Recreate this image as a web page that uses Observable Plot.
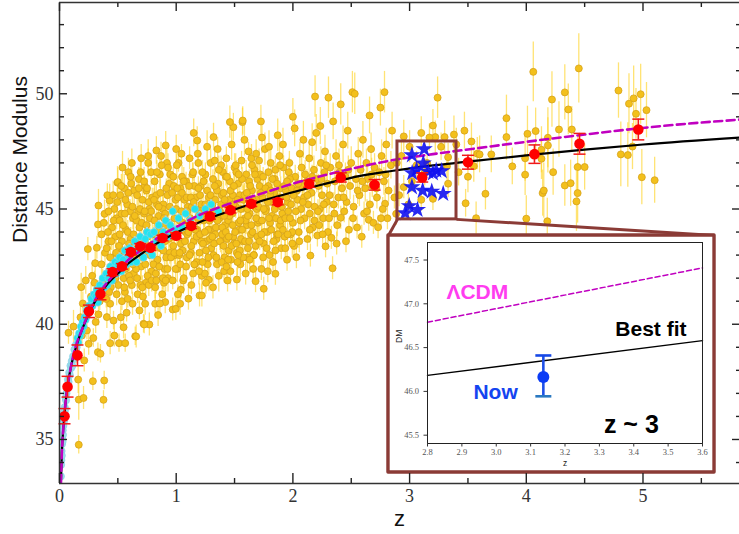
<!DOCTYPE html>
<html><head><meta charset="utf-8">
<script src="https://cdn.jsdelivr.net/npm/d3@7"></script>
<script src="https://cdn.jsdelivr.net/npm/@observablehq/plot@0.6"></script>
<style>
html,body{margin:0;padding:0;background:#fff;overflow:hidden}
#wrap{position:relative;width:739px;height:534px}
#main{position:absolute;left:0;top:0}
#inset{position:absolute;left:390px;top:237px}
</style></head><body><div id="wrap"><div id="main"></div><div id="inset"></div></div>
<script>
// ---------------- data ----------------
// quasars: [z, distance modulus, 1-sigma error]
const quasars = [
[0.077,39.63,0.5],[0.165,34.77,0.4],[0.165,36.73,0.9],[0.206,36.8,0.5],[0.186,41.61,0.6],[0.192,39.51,0.4],[0.212,38.43,0.5],[0.14,38.9,0.6],[0.12,39.9,0.7],[0.18,40.3,0.5],[0.16,37.6,0.6],[0.2,40.9,0.5],
[0.243,43.26,0.5],[0.235,39.73,0.4],[0.25,39.15,0.5],[0.286,37.53,0.4],[0.32,43.32,0.5],[0.306,42.65,0.6],[0.334,45.15,0.7],[0.329,38.79,0.4],[0.334,40.43,0.5],[0.27,41.2,0.6],[0.3,41.8,0.5],[0.26,40.7,0.4],[0.31,40.1,0.5],[0.28,42.1,0.5],[0.33,44.33,0.6],[0.345,41.0,0.4],[0.225,41.9,0.6],[0.29,39.4,0.4],
[0.383,37.56,0.4],[0.377,36.72,0.4],[0.386,44.79,0.6],[0.38,44.4,0.5],[0.351,38.72,0.4],[0.406,40.31,0.5],[0.434,40.89,0.5],[0.463,40.16,0.4],[0.47,39.51,0.5],[0.434,39.18,0.5],[0.43,45.37,0.7],[0.497,46.14,0.7],[0.36,42.6,0.5],[0.39,43.1,0.5],[0.41,42.2,0.4],[0.42,43.6,0.5],[0.44,41.6,0.4],[0.45,44.2,0.5],[0.46,42.9,0.6],[0.48,43.8,0.5],[0.49,41.3,0.5],[0.37,41.9,0.5],[0.4,41.1,0.4],[0.47,45.0,0.6],[0.42,44.9,0.6],[0.49,44.6,0.5],[0.36,43.9,0.6],[0.44,42.5,0.5],
[0.51,39.18,0.4],[0.549,39.87,0.5],[0.563,39.18,0.4],[0.626,40.89,0.5],[0.5,46.17,0.6],[0.52,45.6,0.5],[0.53,44.8,0.6],[0.54,43.2,0.5],[0.55,42.0,0.4],[0.56,41.4,0.4],[0.57,44.1,0.5],[0.58,45.2,0.6],[0.59,46.6,0.6],[0.6,42.7,0.5],[0.61,43.7,0.5],[0.62,41.7,0.4],[0.63,44.6,0.5],[0.64,45.8,0.6],[0.505,42.8,0.5],[0.515,43.9,0.5],[0.535,41.0,0.4],[0.565,42.4,0.5],[0.575,40.5,0.4],[0.595,43.5,0.5],[0.605,44.9,0.5],[0.615,46.1,0.6],[0.635,42.2,0.4],[0.645,43.0,0.5],[0.525,40.3,0.5],[0.555,45.9,0.6],[0.585,41.1,0.4],[0.62,47.0,0.6],[0.54,46.8,0.7],
[0.649,39.48,0.4],[0.72,40.02,0.4],[0.77,39.99,0.5],[0.734,40.89,0.5],[0.657,39.47,0.5],[0.726,39.99,0.4],[0.66,44.5,0.5],[0.67,41.3,0.4],[0.68,46.3,0.5],[0.69,43.6,0.5],[0.7,42.5,0.6],[0.71,45.4,0.6],[0.72,43.0,0.5],[0.73,46.0,0.4],[0.74,41.8,0.5],[0.75,44.0,0.5],[0.76,47.0,0.6],[0.77,45.0,0.6],[0.78,43.4,0.4],[0.79,42.3,0.5],[0.665,42.0,0.5],[0.675,44.9,0.6],[0.685,40.6,0.4],[0.695,46.6,0.5],[0.705,43.2,0.5],[0.715,41.2,0.5],[0.725,44.8,0.5],[0.735,42.6,0.4],[0.745,45.8,0.5],[0.755,43.8,0.4],[0.765,41.7,0.5],[0.775,44.6,0.5],[0.785,46.6,0.6],[0.795,45.5,0.4],[0.7,47.2,0.6],[0.76,47.3,0.7],[0.68,45.9,0.5],
[0.82,40.89,0.5],[0.906,40.96,0.5],[0.83,47.54,0.6],[0.91,47.76,0.6],[0.81,43.9,0.4],[0.82,41.6,0.5],[0.83,45.6,0.5],[0.84,42.8,0.4],[0.85,44.7,0.5],[0.86,46.5,0.6],[0.87,43.5,0.5],[0.88,41.3,0.4],[0.89,45.2,0.5],[0.9,42.4,0.5],[0.91,44.3,0.5],[0.92,47.0,0.6],[0.93,42.0,0.6],[0.94,46.1,0.4],[0.945,43.1,0.5],[0.815,46.2,0.5],[0.825,42.2,0.5],[0.835,45.2,0.4],[0.845,40.4,0.5],[0.855,44.2,0.4],[0.865,43.3,0.5],[0.875,46.9,0.5],[0.885,45.0,0.6],[0.895,41.8,0.4],[0.905,44.8,0.5],[0.915,42.9,0.5],[0.925,45.6,0.4],[0.935,43.7,0.5],[0.87,47.3,0.6],[0.95,46.5,0.5],[0.86,40.9,0.4],
[0.97,40.64,0.5],[0.997,40.67,0.5],[1.034,40.89,0.5],[1.04,41.5,0.4],[0.96,44.0,0.5],[0.97,41.9,0.4],[0.98,46.0,0.5],[0.99,43.0,0.5],[1.0,45.0,0.6],[1.01,42.4,0.6],[1.02,47.0,0.4],[1.03,44.5,0.5],[1.04,43.5,0.5],[1.05,46.4,0.5],[1.06,41.9,0.6],[1.07,45.4,0.4],[1.08,44.0,0.5],[1.09,42.9,0.4],[1.1,45.1,0.5],[0.965,45.7,0.5],[0.975,43.4,0.5],[0.985,44.6,0.4],[0.995,42.4,0.5],[1.005,46.9,0.5],[1.015,41.3,0.4],[1.025,43.0,0.5],[1.035,45.9,0.6],[1.045,47.4,0.4],[1.055,44.4,0.5],[1.065,42.0,0.5],[1.075,43.6,0.6],[1.085,46.2,0.4],[1.095,44.9,0.5],[1.0,47.6,0.6],
[1.105,41.11,0.5],[1.18,47.97,0.6],[1.2,41.25,0.5],[1.22,41.25,0.5],[1.28,41.93,0.5],[1.12,44.6,0.5],[1.13,41.7,0.4],[1.14,46.5,0.5],[1.15,43.6,0.5],[1.16,42.6,0.5],[1.17,45.5,0.6],[1.18,44.1,0.4],[1.19,47.0,0.5],[1.2,43.1,0.4],[1.21,46.0,0.5],[1.22,42.1,0.6],[1.23,45.0,0.6],[1.24,44.6,0.4],[1.25,46.5,0.5],[1.26,43.6,0.5],[1.27,42.6,0.5],[1.28,45.5,0.6],[1.29,44.1,0.4],[1.3,43.3,0.5],[1.115,47.2,0.5],[1.125,43.1,0.5],[1.135,45.1,0.6],[1.145,42.2,0.4],[1.155,46.0,0.4],[1.165,44.1,0.5],[1.175,42.7,0.5],[1.185,47.4,0.6],[1.195,44.7,0.4],[1.205,45.6,0.5],[1.215,43.6,0.4],[1.225,46.6,0.5],[1.235,44.5,0.5],[1.245,42.2,0.6],[1.255,41.8,0.5],[1.265,47.7,0.7],[1.275,44.1,0.4],[1.285,45.0,0.5],[1.295,47.0,0.6],[1.15,48.3,0.6],
[1.32,48.12,0.6],[1.49,48.55,0.6],[1.46,48.77,0.7],[1.44,41.9,0.5],[1.31,45.2,0.5],[1.32,43.0,0.5],[1.33,47.1,0.6],[1.34,44.2,0.6],[1.35,42.6,0.4],[1.36,46.1,0.5],[1.37,44.6,0.5],[1.38,43.6,0.5],[1.39,45.6,0.6],[1.4,46.6,0.4],[1.41,42.3,0.5],[1.42,44.3,0.4],[1.43,47.2,0.5],[1.44,45.2,0.6],[1.45,43.2,0.6],[1.46,46.2,0.4],[1.47,42.8,0.5],[1.48,44.8,0.5],[1.49,43.8,0.5],[1.5,46.8,0.6],[1.315,41.6,0.5],[1.325,44.8,0.4],[1.335,43.9,0.5],[1.345,45.9,0.4],[1.355,47.6,0.5],[1.365,42.1,0.7],[1.375,44.9,0.5],[1.385,46.9,0.4],[1.395,43.9,0.5],[1.405,45.7,0.5],[1.415,42.9,0.6],[1.425,46.4,0.4],[1.435,43.7,0.5],[1.445,44.5,0.5],[1.455,45.4,0.5],[1.465,42.3,0.6],[1.475,47.8,0.7],[1.485,45.6,0.4],[1.495,43.5,0.5],
[1.52,41.94,0.5],[1.568,48.77,0.6],[1.57,48.84,0.6],[1.68,41.87,0.5],[1.726,48.8,0.7],[1.51,45.1,0.5],[1.52,43.1,0.4],[1.53,46.1,0.5],[1.54,44.1,0.6],[1.55,42.6,0.6],[1.56,47.1,0.4],[1.57,43.6,0.5],[1.58,45.6,0.5],[1.59,44.6,0.5],[1.6,46.5,0.6],[1.61,42.9,0.7],[1.62,47.5,0.4],[1.63,44.8,0.5],[1.64,43.9,0.5],[1.65,45.8,0.6],[1.66,42.4,0.6],[1.67,46.7,0.4],[1.68,43.4,0.5],[1.69,45.4,0.5],[1.7,44.4,0.5],[1.515,46.6,0.5],[1.525,42.7,0.6],[1.535,44.4,0.5],[1.545,45.6,0.5],[1.555,43.7,0.4],[1.565,46.3,0.5],[1.575,45.4,0.6],[1.585,48.0,0.7],[1.595,42.2,0.5],[1.605,44.3,0.4],[1.615,43.3,0.5],[1.625,46.2,0.5],[1.635,45.2,0.6],[1.645,47.2,0.6],[1.655,44.0,0.4],[1.665,43.0,0.5],[1.675,45.1,0.5],[1.685,47.4,0.6],[1.695,46.3,0.7],
[1.75,41.54,0.5],[1.85,42.19,0.5],[1.71,44.5,0.5],[1.72,46.5,0.4],[1.73,42.4,0.5],[1.74,45.5,0.5],[1.75,43.5,0.6],[1.76,47.6,0.7],[1.77,45.0,0.4],[1.78,44.0,0.5],[1.79,46.0,0.5],[1.8,43.0,0.6],[1.81,47.0,0.6],[1.82,44.7,0.5],[1.83,42.7,0.4],[1.84,45.7,0.5],[1.85,46.7,0.6],[1.86,43.7,0.6],[1.87,48.2,0.7],[1.88,45.3,0.5],[1.89,44.3,0.5],[1.9,43.3,0.5],[1.715,46.0,0.5],[1.735,48.1,0.7],[1.745,42.9,0.5],[1.765,44.9,0.5],[1.785,42.3,0.5],[1.805,44.4,0.4],[1.825,45.3,0.5],[1.845,46.3,0.6],[1.865,43.9,0.5],[1.885,47.3,0.7],[1.895,45.9,0.5],[1.795,47.7,0.7],
[2.03,42.91,0.5],[2.0,49.0,0.8],[1.91,44.8,0.5],[1.92,46.8,0.5],[1.93,43.8,0.6],[1.94,45.8,0.6],[1.95,42.8,0.5],[1.96,44.9,0.4],[1.97,47.0,0.5],[1.98,43.9,0.6],[1.99,45.9,0.7],[2.0,44.4,0.5],[2.01,43.4,0.5],[2.02,46.4,0.5],[2.04,45.4,0.6],[2.05,44.0,0.7],[2.06,47.4,0.5],[2.07,45.0,0.5],[2.08,46.0,0.6],[2.09,48.0,0.8],[2.1,44.6,0.5],[1.915,47.8,0.7],[1.935,43.3,0.5],[1.955,45.3,0.5],[1.975,46.3,0.6],[1.995,44.0,0.5],[2.015,48.5,0.8],[2.035,45.8,0.5],[2.055,43.6,0.5],[2.075,46.8,0.6],[2.095,45.5,0.5],
[2.15,42.98,0.5],[2.19,49.88,0.9],[2.21,43.85,0.5],[2.28,43.38,0.5],[2.305,49.83,0.9],[2.12,46.2,0.5],[2.13,45.2,0.6],[2.14,47.2,0.7],[2.16,45.7,0.5],[2.17,44.2,0.5],[2.18,46.7,0.6],[2.2,48.3,0.8],[2.22,46.0,0.5],[2.23,45.0,0.6],[2.24,47.0,0.7],[2.25,45.6,0.5],[2.26,44.6,0.5],[2.27,46.6,0.6],[2.29,45.3,0.5],[2.3,44.0,0.5],[2.125,43.7,0.5],[2.145,44.8,0.5],[2.165,47.9,0.8],[2.185,44.5,0.5],[2.205,46.3,0.6],[2.235,48.6,0.8],[2.255,43.9,0.5],[2.275,47.5,0.7],[2.295,46.1,0.6],
[2.34,42.43,0.5],[2.41,49.54,0.9],[2.41,44.62,0.5],[2.33,43.75,0.5],[2.31,44.6,0.5],[2.32,46.8,0.6],[2.35,45.2,0.5],[2.36,46.2,0.6],[2.37,47.3,0.7],[2.38,44.3,0.5],[2.39,45.5,0.5],[2.4,46.6,0.6],[2.42,45.9,0.5],[2.43,47.8,0.8],[2.44,44.9,0.5],[2.45,46.4,0.6],[2.46,45.3,0.5],[2.47,48.4,0.8],[2.48,44.1,0.5],[2.49,46.0,0.6],[2.5,47.0,0.7],[2.345,48.8,0.8],[2.375,43.5,0.5],[2.455,43.6,0.5],
[2.51,50.07,0.9],[2.53,50.0,0.9],[2.657,49.06,0.8],[2.65,44.53,0.5],[2.52,45.1,0.5],[2.54,46.3,0.6],[2.55,44.2,0.5],[2.56,47.4,0.7],[2.57,45.6,0.5],[2.58,46.7,0.6],[2.6,48.0,0.8],[2.61,44.8,0.5],[2.62,45.9,0.6],[2.63,47.0,0.6],[2.64,46.3,0.5],[2.66,45.2,0.5],[2.67,47.6,0.7],[2.68,46.0,0.5],[2.69,44.4,0.5],[2.7,46.8,0.6],[2.59,43.8,0.5],
[2.73,44.21,0.5],[2.75,49.4,0.8],[2.785,50.07,0.9],[2.79,45.23,0.5],[2.72,45.5,0.5],[2.74,46.6,0.6],[2.76,47.3,0.7],[2.77,45.0,0.5],[2.78,46.2,0.6],[2.8,47.8,0.7],[2.81,44.6,0.5],[2.82,45.8,0.5],[2.84,46.9,0.6],[2.85,48.4,0.8],[2.87,45.5,0.5],[2.885,44.79,0.5],[2.89,47.0,0.6],
[2.95,48.15,0.7],[3.2,48.62,0.7],[3.24,49.83,0.9],[3.22,48.12,0.7],[3.3,48.12,0.7],[3.38,48.23,0.8],[3.17,48.1,0.6],[2.95,45.95,0.5],[3.02,46.2,0.5],[3.2,45.44,0.5],[3.1,45.4,0.5],[3.33,47.25,0.6],[3.33,46.1,0.6],[3.32,46.85,0.6],[2.99,45.2,0.5],[3.15,47.0,0.6],[3.06,46.9,0.6],[2.93,47.3,0.6],[3.0,47.7,0.7],[3.42,46.6,0.6],[3.27,47.7,0.6],[3.13,46.6,0.6],[2.91,45.6,0.5],[3.4,47.8,0.7],[3.1,48.3,0.7],
[3.48,45.25,0.6],[3.53,47.93,0.8],[3.55,46.86,0.7],[3.58,47.4,0.7],[3.6,47.37,0.8],[3.65,45.66,0.7],[3.7,47.37,0.8],[3.5,46.4,0.7],[3.47,48.4,0.8],[3.57,44.6,0.7],
[3.83,48.94,1.0],[3.83,48.12,1.0],[3.88,46.85,0.8],[3.99,47.2,1.0],[3.99,46.49,0.9],[4.0,44.58,1.0],[4.06,50.95,1.3],[4.01,48.26,1.2],[4.08,48.38,1.0],[4.13,47.18,0.9],[4.13,47.57,1.0],[4.14,45.69,1.0],[4.15,45.8,1.2],[4.18,44.47,1.0],[4.185,48.09,1.3],[4.185,47.76,1.2],[4.22,49.75,1.2],[4.23,46.6,1.0],[4.28,48.45,1.2],[4.33,46.02,0.9],[4.33,50.06,1.2],[4.36,49.32,1.1],[4.38,46.12,1.0],[4.39,48.45,1.0],[4.45,51.1,1.5],[4.44,46.82,1.3],[4.5,46.82,1.0],[4.44,45.69,1.3],[4.43,45.33,1.3],[4.79,50.14,1.2],[4.88,49.57,1.3],[4.92,49.8,1.4],[4.98,49.98,1.3],[4.94,49.13,1.1],[5.03,49.29,1.2],[4.81,47.37,1.4],[4.87,47.34,1.4],[4.91,47.71,1.0],[4.99,46.38,1.2],[5.1,46.25,1.0]
];
// quasars in the dense core of the diagram: [z, DM, error]
const quasarsCore = [
[0.405,43.3,0.5],[0.415,44.0,0.4],[0.425,41.4,0.6],[0.435,42.9,0.5],[0.445,43.6,0.4],[0.455,41.9,0.5],[0.465,44.5,0.6],[0.475,42.3,0.4],[0.485,43.1,0.5],[0.495,45.3,0.6],[0.41,45.6,0.5],[0.46,45.6,0.6],[0.48,42.0,0.4],
[0.505,41.7,0.5],[0.515,44.5,0.4],[0.525,42.9,0.6],[0.535,43.6,0.5],[0.545,44.3,0.4],[0.555,41.6,0.5],[0.565,45.4,0.6],[0.575,43.0,0.4],[0.585,44.0,0.5],[0.595,42.1,0.6],[0.51,43.4,0.5],[0.56,44.8,0.4],[0.59,45.7,0.6],[0.53,46.0,0.5],
[0.605,41.9,0.4],[0.615,43.3,0.5],[0.625,45.1,0.6],[0.635,43.9,0.5],[0.645,44.7,0.4],[0.655,42.4,0.5],[0.665,45.6,0.6],[0.675,43.1,0.4],[0.685,44.2,0.5],[0.695,41.7,0.6],[0.61,46.4,0.5],[0.65,43.5,0.4],[0.69,45.0,0.5],[0.63,42.6,0.6],
[0.705,44.4,0.5],[0.715,42.9,0.4],[0.725,46.2,0.6],[0.735,43.5,0.5],[0.745,44.3,0.4],[0.755,42.1,0.5],[0.765,45.3,0.6],[0.775,43.0,0.4],[0.785,44.9,0.5],[0.795,43.9,0.6],[0.71,41.6,0.5],[0.75,45.9,0.4],[0.79,41.9,0.5],[0.73,44.9,0.6],
[0.805,42.6,0.5],[0.815,44.5,0.4],[0.825,43.4,0.6],[0.835,46.6,0.5],[0.845,44.0,0.4],[0.855,42.5,0.5],[0.865,45.7,0.6],[0.875,43.9,0.4],[0.885,42.0,0.5],[0.895,44.6,0.6],[0.81,45.4,0.5],[0.85,45.1,0.4],[0.89,43.2,0.5],[0.83,41.9,0.6],
[0.905,43.6,0.5],[0.915,45.9,0.4],[0.925,42.4,0.6],[0.935,44.4,0.5],[0.945,45.1,0.4],[0.955,42.9,0.5],[0.965,43.8,0.6],[0.975,46.4,0.4],[0.985,43.1,0.5],[0.995,45.4,0.6],[0.91,41.9,0.5],[0.95,44.0,0.4],[0.99,44.1,0.5],[0.93,46.8,0.6],
[1.005,43.9,0.5],[1.015,45.5,0.4],[1.025,44.1,0.6],[1.035,42.6,0.5],[1.045,44.9,0.4],[1.055,43.2,0.5],[1.065,46.2,0.6],[1.075,44.3,0.4],[1.085,42.5,0.5],[1.095,43.9,0.6],[1.01,45.9,0.5],[1.05,45.7,0.4],[1.09,45.5,0.5],[1.03,43.1,0.6],
[1.105,44.0,0.5],[1.115,43.0,0.4],[1.125,45.5,0.6],[1.135,44.2,0.5],[1.145,46.6,0.4],[1.155,42.6,0.5],[1.165,45.0,0.6],[1.175,43.8,0.4],[1.185,44.6,0.5],[1.195,42.3,0.6],[1.11,46.0,0.5],[1.15,45.3,0.4],[1.19,45.9,0.5],[1.13,43.4,0.6],
[1.205,43.9,0.5],[1.215,45.2,0.4],[1.225,42.7,0.6],[1.235,46.2,0.5],[1.245,44.0,0.4],[1.255,43.2,0.5],[1.265,45.8,0.6],[1.275,42.9,0.4],[1.285,44.5,0.5],[1.295,45.6,0.6],[1.21,44.8,0.5],[1.25,45.2,0.4],[1.29,43.7,0.5],[1.23,43.5,0.6],
[1.305,44.6,0.5],[1.315,46.3,0.4],[1.325,43.5,0.6],[1.335,45.4,0.5],[1.345,42.9,0.4],[1.355,44.5,0.5],[1.365,46.7,0.6],[1.375,43.6,0.4],[1.385,45.2,0.5],[1.395,44.2,0.6],[1.31,43.8,0.5],[1.35,45.8,0.4],[1.39,42.7,0.5],[1.33,46.0,0.6],
[1.405,43.4,0.5],[1.415,45.4,0.4],[1.425,44.0,0.6],[1.435,46.4,0.5],[1.445,42.8,0.4],[1.455,44.7,0.5],[1.465,45.8,0.6],[1.475,43.4,0.4],[1.485,44.3,0.5],[1.495,46.0,0.6],[1.41,44.7,0.5],[1.45,43.8,0.4],[1.49,45.2,0.5],[1.43,42.5,0.6],
[1.505,44.0,0.5],[1.515,43.5,0.4],[1.525,45.4,0.6],[1.535,46.5,0.5],[1.545,43.2,0.4],[1.555,45.0,0.5],[1.565,44.1,0.6],[1.575,42.9,0.4],[1.585,45.6,0.5],[1.595,44.5,0.6],[1.51,46.9,0.5],[1.55,44.5,0.4],[1.59,43.6,0.5],[1.53,43.0,0.6],
[1.605,45.7,0.5],[1.615,44.7,0.4],[1.625,43.6,0.6],[1.635,46.0,0.5],[1.645,44.3,0.4],[1.655,45.4,0.5],[1.665,43.0,0.6],[1.675,46.5,0.4],[1.685,44.6,0.5],[1.695,43.8,0.6],[1.61,45.0,0.5],[1.65,46.9,0.4],[1.69,45.0,0.5],[1.63,42.8,0.6],
[1.705,45.1,0.5],[1.715,43.6,0.4],[1.725,45.7,0.6],[1.735,44.5,0.5],[1.745,46.4,0.4],[1.755,44.0,0.5],[1.765,45.9,0.6],[1.775,43.3,0.4],[1.785,45.3,0.5],[1.795,44.6,0.6],[1.71,47.1,0.5],[1.75,45.0,0.4],[1.79,46.6,0.5],[1.73,43.9,0.6],
[1.805,45.6,0.5],[1.815,44.1,0.4],[1.825,46.3,0.6],[1.835,43.6,0.5],[1.845,45.0,0.4],[1.855,44.6,0.5],[1.865,46.1,0.6],[1.875,43.9,0.4],[1.885,45.5,0.5],[1.895,44.5,0.6],[1.81,45.8,0.5],[1.85,43.2,0.4],[1.89,46.9,0.5],
[1.905,45.1,0.5],[1.915,44.1,0.4],[1.925,46.0,0.6],[1.935,44.6,0.5],[1.945,45.5,0.4],[1.955,43.9,0.5],[1.965,46.6,0.6],[1.975,44.6,0.4],[1.985,45.2,0.5],[1.995,43.5,0.6],[1.95,46.2,0.5],
[2.005,45.6,0.5],[2.025,44.9,0.6],[2.045,46.1,0.5],[2.065,44.5,0.6],[2.085,45.3,0.5],[2.105,46.5,0.6],[2.125,45.6,0.5],[2.145,44.1,0.6],[2.165,46.4,0.5],[2.185,45.1,0.6],[2.215,44.9,0.5],[2.245,46.3,0.6],[2.265,45.2,0.5],[2.285,46.9,0.7],[2.225,44.3,0.5],
[2.315,45.6,0.6],[2.355,44.8,0.5],[2.395,46.9,0.7],[2.435,45.5,0.6],[2.475,46.7,0.6],[2.515,44.6,0.5],[2.555,45.8,0.6],[2.595,46.2,0.6],[2.635,44.9,0.5],[2.675,46.5,0.7],[2.715,45.9,0.6],[2.755,44.6,0.5],[2.795,46.5,0.7]
];
// supernovae: [z, distance modulus, error]
const supernovae = [
[0.012,33.4,0.3],[0.014,33.9,0.25],[0.016,34.1,0.3],[0.018,34.5,0.25],[0.02,34.3,0.3],[0.022,34.8,0.3],[0.024,35.0,0.25],[0.026,34.9,0.3],[0.028,35.4,0.3],[0.03,35.2,0.25],[0.033,35.6,0.3],[0.036,35.9,0.3],[0.039,35.8,0.25],[0.042,36.2,0.3],[0.045,36.4,0.3],[0.048,36.3,0.25],[0.052,36.8,0.3],[0.056,36.7,0.3],[0.06,37.0,0.3],[0.064,37.3,0.25],[0.068,37.2,0.3],[0.073,37.6,0.3],[0.078,37.5,0.25],[0.083,37.9,0.3],[0.088,37.8,0.3],[0.094,38.2,0.25],[0.1,38.1,0.3],
[0.105,38.4,0.3],[0.11,38.2,0.25],[0.116,38.6,0.3],[0.122,38.5,0.25],[0.128,38.9,0.3],[0.134,38.7,0.3],[0.14,39.1,0.25],[0.147,39.0,0.3],[0.154,39.4,0.3],[0.161,39.2,0.25],[0.168,39.6,0.3],[0.175,39.5,0.3],[0.183,39.9,0.25],[0.19,39.7,0.3],[0.198,40.1,0.3],[0.206,39.9,0.25],[0.215,40.3,0.3],[0.224,40.2,0.3],[0.233,40.6,0.25],[0.242,40.4,0.3],[0.252,40.8,0.3],[0.262,40.6,0.25],[0.273,41.1,0.3],[0.284,40.8,0.3],[0.296,41.3,0.25],
[0.31,41.2,0.2],[0.32,41.5,0.2],[0.33,40.95,0.2],[0.345,41.7,0.2],[0.36,41.4,0.2],[0.37,42.0,0.2],[0.385,41.6,0.2],[0.4,42.2,0.2],[0.41,41.7,0.2],[0.42,42.0,0.2],[0.435,42.5,0.2],[0.45,41.9,0.2],[0.46,42.4,0.2],[0.475,42.7,0.2],[0.49,42.2,0.2],[0.5,42.6,0.2],[0.515,42.9,0.2],[0.53,42.3,0.2],[0.545,42.8,0.2],[0.56,43.2,0.2],[0.575,42.6,0.2],[0.59,43.0,0.2],
[0.6,43.3,0.2],[0.615,42.7,0.2],[0.63,43.2,0.2],[0.645,43.6,0.2],[0.66,42.7,0.2],[0.675,43.2,0.2],[0.69,43.8,0.2],[0.705,43.4,0.2],[0.72,42.9,0.2],[0.735,43.7,0.2],[0.75,44.0,0.2],[0.765,43.2,0.2],[0.78,43.9,0.2],[0.795,43.0,0.2],[0.81,44.0,0.2],[0.83,43.6,0.2],[0.85,44.3,0.2],[0.87,43.4,0.2],[0.89,44.0,0.2],[0.91,44.5,0.2],[0.93,43.8,0.2],[0.95,44.3,0.2],[0.97,44.9,0.2],[0.99,44.1,0.2],
[1.02,44.6,0.2],[1.05,44.2,0.2],[1.08,44.8,0.2],[1.12,44.5,0.2],[1.16,45.0,0.2],[1.2,44.7,0.2],[1.25,45.0,0.2],[1.3,45.2,0.2],[1.36,44.9,0.2]
];
// binned quasar means
const binZ   = [0.043,0.069,0.154,0.252,0.351,0.454,0.535,0.612,0.692,0.78,0.883,1.0,1.129,1.289,1.465,1.643,1.87,2.14,2.41,2.70,3.108,3.50,4.07,4.456,4.96];
const binDM  = [36.01,37.29,38.65,40.56,41.31,42.26,42.51,43.13,43.38,43.32,43.74,43.84,44.27,44.68,44.95,45.23,45.30,46.09,46.37,46.05,46.37,47.03,47.38,47.83,48.45];
const binErr = [0.33,0.45,0.45,0.27,0.25,0.15,0.12,0.12,0.12,0.12,0.12,0.12,0.12,0.12,0.12,0.12,0.12,0.15,0.2,0.23,0.2,0.3,0.4,0.45,0.45];
// z ~ 3 sources (stars)
const starZ  = [3.02,3.125,3.117,3.022,3.228,3.275,3.02,3.112,3.19,3.288,2.997,3.068,2.962,3.16,3.06,3.2];
const starDM = [47.34,47.60,46.98,46.56,46.67,46.65,45.95,45.80,45.76,45.66,45.13,44.97,44.82,46.62,46.70,46.55];
// model curves [z, DM]
const bestFit = [[0.012,33.1],[0.02,34.4],[0.03,35.3],[0.04,35.95],[0.05,36.5],[0.07,37.35],[0.1,38.2],[0.13,38.8],[0.16,39.3],[0.2,39.85],[0.25,40.45],[0.3,40.95],[0.35,41.35],[0.4,41.68],[0.5,42.2],[0.6,42.68],[0.7,43.05],[0.8,43.4],[0.9,43.7],[1.0,43.97],[1.1,44.21],[1.2,44.43],[1.3,44.63],[1.5,44.98],[1.7,45.3],[1.95,45.66],[2.15,45.93],[2.4,46.24],[2.6,46.46],[2.86,46.66],[3.15,46.86],[3.4,47.0],[3.6,47.11],[4.06,47.36],[4.5,47.58],[5.0,47.8],[5.83,48.1]];
const lcdm = [[0.012,33.1],[0.02,34.4],[0.03,35.3],[0.05,36.5],[0.1,38.2],[0.2,39.87],[0.3,41.0],[0.4,41.76],[0.5,42.32],[0.6,42.84],[0.7,43.22],[0.8,43.6],[0.9,43.94],[1.0,44.22],[1.2,44.74],[1.5,45.3],[1.75,45.7],[2.0,46.1],[2.3,46.5],[2.6,46.86],[2.9,47.16],[3.2,47.38],[3.45,47.55],[3.9,47.85],[4.5,48.23],[5.1,48.57],[5.83,48.88]];
// inset
const insetBest = [[2.8,46.183],[3.6,46.58]];
const insetLCDM = [[2.8,46.79],[3.6,47.41]];
const nowPoint = [{z:3.137, dm:46.164, lo:45.944, hi:46.41}];
// ticks
const xMajor = [0,1,2,3,4,5];
const xMinor = [0.5,1.5,2.5,3.5,4.5,5.5];
const yMajor = [35,40,45,50];
const yMinor = [34,36,37,38,39,41,42,43,44,46,47,48,49,51,52,53];
const insetXTicks = [2.8,2.9,3.0,3.1,3.2,3.3,3.4,3.5,3.6];
const insetYTicks = [45.5,46.0,46.5,47.0,47.5];
// highlighted region and inset outline (main-plot coordinates)
const zoomBox = [{z1:2.896, z2:3.402, d1:44.55, d2:47.93}];
const insetBox = [{z1:2.819, z2:5.613, d1:33.57, d2:43.85}];
const connectors = [{za:2.896, da:44.55, zb:2.819, db:43.85},{za:3.402, da:44.55, zb:5.613, db:43.85}];

// --------------- build ---------------
const allQuasars = quasars.concat(quasarsCore);
const bins = binZ.map((z,i)=>({z, dm:binDM[i], e:binErr[i]}));
const stars = starZ.map((z,i)=>({z, dm:starDM[i]}));
const serif = "'Liberation Serif','DejaVu Serif',serif";
const sans = "'Liberation Sans',Arial,sans-serif";
const capSymbol = {draw(ctx, size){const r = Math.sqrt(size/Math.PI); ctx.moveTo(-r,0); ctx.lineTo(r,0);}};
const brown = "#8b3b36";
const xDomain = [0, 5.827], yDomain = [33.09, 53.96];

const tickStyle = {stroke:"#222", strokeWidth:1.4, tickFormat:()=>"", label:null};

const main = Plot.plot({
  width:739, height:534, marginLeft:59, marginRight:0, marginTop:2, marginBottom:51,
  x:{domain:xDomain}, y:{domain:yDomain},
  style:{background:"white"},
  marks:[
    Plot.ruleX(allQuasars,{x:d=>d[0], y1:d=>d[1]-d[2], y2:d=>d[1]+d[2], stroke:"#ffd42a", strokeOpacity:0.65, strokeWidth:1.3, clip:true}),
    Plot.dot(allQuasars,{x:d=>d[0], y:d=>d[1], r:3.5, fill:"#f3c01c", stroke:"#d6a21a", strokeWidth:0.8}),
    Plot.ruleX(supernovae,{x:d=>d[0], y1:d=>d[1]-d[2], y2:d=>d[1]+d[2], stroke:"#a6d8ea", strokeWidth:2, clip:true}),
    Plot.dot(supernovae,{x:d=>d[0], y:d=>d[1], r:3.6, fill:d=>d[0]<0.15?"#9fd8ea":"#22e4f0", stroke:"#7fd3e8", strokeWidth:0.6, clip:true}),
    Plot.line(bestFit,{x:d=>d[0], y:d=>d[1], stroke:"black", strokeWidth:2.2, curve:"monotone-x", clip:true}),
    Plot.line(lcdm,{x:d=>d[0], y:d=>d[1], stroke:"#c000c0", strokeWidth:2.6, strokeDasharray:"8,4.5", curve:"monotone-x", clip:true}),
    Plot.dot(stars,{x:"z", y:"dm", symbol:"star", r:5.4, fill:"#1010f0", fillOpacity:0.9}),
    Plot.ruleX(bins,{x:"z", y1:d=>d.dm-d.e, y2:d=>d.dm+d.e, stroke:"#f01818", strokeWidth:1.6}),
    Plot.dot(bins,{x:"z", y:d=>d.dm-d.e, symbol:capSymbol, r:6, stroke:"#f01818", strokeWidth:1.5, fill:"none"}),
    Plot.dot(bins,{x:"z", y:d=>d.dm+d.e, symbol:capSymbol, r:6, stroke:"#f01818", strokeWidth:1.5, fill:"none"}),
    Plot.dot(bins,{x:"z", y:"dm", r:5.3, fill:"#ff0000"}),
    Plot.rect(zoomBox,{x1:"z1", x2:"z2", y1:"d1", y2:"d2", fill:"none", stroke:brown, strokeWidth:3}),
    Plot.link(connectors,{x1:"za", y1:"da", x2:"zb", y2:"db", stroke:brown, strokeWidth:3}),
    Plot.rect(insetBox,{x1:"z1", x2:"z2", y1:"d1", y2:"d2", fill:"white", stroke:brown, strokeWidth:3.4, strokeLinejoin:"round"}),
    // spines
    Plot.ruleX([xDomain[0]],{stroke:"#333", strokeWidth:1.5}),
    Plot.ruleY([yDomain[0]],{stroke:"#333", strokeWidth:1.5}),
    Plot.ruleY([yDomain[1]],{stroke:"#333", strokeWidth:1.5}),
    // inward ticks
    Plot.axisX({...tickStyle, ticks:xMajor, anchor:"bottom", tickSize:10, dy:-10}),
    Plot.axisX({...tickStyle, ticks:xMinor, anchor:"bottom", tickSize:5, dy:-5}),
    Plot.axisX({...tickStyle, ticks:xMajor, anchor:"top", tickSize:8, dy:8}),
    Plot.axisX({...tickStyle, ticks:xMinor, anchor:"top", tickSize:4, dy:4}),
    Plot.axisY({...tickStyle, ticks:yMajor, anchor:"left", tickSize:8, dx:8}),
    Plot.axisY({...tickStyle, ticks:yMinor, anchor:"left", tickSize:5, dx:5}),
    Plot.axisY({...tickStyle, ticks:yMajor, anchor:"right", tickSize:8, dx:-8}),
    Plot.axisY({...tickStyle, ticks:yMinor, anchor:"right", tickSize:4, dx:-4}),
    // tick labels
    Plot.axisX({ticks:xMajor, tickFormat:d3.format("d"), anchor:"bottom", tickSize:0, tickPadding:6, fontSize:18, fontFamily:serif, fill:"#333", label:null}),
    Plot.axisY({ticks:yMajor, tickFormat:d3.format("d"), anchor:"left", tickSize:0, tickPadding:6, fontSize:18, fontFamily:serif, fill:"#333", label:null}),
    // axis titles
    Plot.text(["Distance Modulus"],{frameAnchor:"left", dx:-39, rotate:-90, fontSize:21, fontFamily:sans, fill:"#111"}),
    Plot.text(["z"],{frameAnchor:"bottom", dy:42, lineAnchor:"bottom", fontSize:22, fontFamily:sans, fill:"#111"})
  ]
});
document.getElementById("main").append(main);

const inset = Plot.plot({
  width:322, height:233, marginLeft:37, marginRight:10, marginTop:5, marginBottom:27,
  x:{domain:[2.8,3.6]}, y:{domain:[45.405,47.70]},
  style:{background:"transparent", overflow:"visible"},
  marks:[
    Plot.line(insetLCDM,{x:d=>d[0], y:d=>d[1], stroke:"#c000c0", strokeWidth:1.5, strokeDasharray:"5,3"}),
    Plot.line(insetBest,{x:d=>d[0], y:d=>d[1], stroke:"black", strokeWidth:1.4}),
    Plot.ruleX(nowPoint,{x:"z", y1:"lo", y2:"hi", stroke:"#1f50e8", strokeWidth:2.6}),
    Plot.dot(nowPoint,{x:"z", y:"hi", symbol:capSymbol, r:8, stroke:"#1648e6", strokeWidth:2.6, fill:"none"}),
    Plot.dot(nowPoint,{x:"z", y:"lo", symbol:capSymbol, r:8, stroke:"#2a78c0", strokeWidth:2.6, fill:"none"}),
    Plot.dot(nowPoint,{x:"z", y:"dm", r:6, fill:"#0b3cf5"}),
    Plot.text(["ΛCDM"],{x:2.945, y:47.056, lineAnchor:"bottom", textAnchor:"middle", fontSize:21, fontWeight:"bold", fontFamily:sans, fill:"#ff3cf0"}),
    Plot.text(["Best fit"],{x:3.45, y:46.638, lineAnchor:"bottom", textAnchor:"middle", fontSize:21, fontWeight:"bold", fontFamily:sans, fill:"#000"}),
    Plot.text(["Now"],{x:2.998, y:45.918, lineAnchor:"bottom", textAnchor:"middle", fontSize:21, fontWeight:"bold", fontFamily:sans, fill:"#1444f0"}),
    Plot.text(["z ~ 3"],{x:3.393, y:45.52, lineAnchor:"bottom", textAnchor:"middle", fontSize:25, fontWeight:"bold", fontFamily:sans, fill:"#000"}),
    Plot.frame({stroke:"#222", strokeWidth:1}),
    Plot.axisX({ticks:insetXTicks, tickFormat:d3.format(".1f"), tickSize:3.5, tickPadding:2, fontSize:8.5, fontFamily:serif, stroke:"#333", fill:"#555", label:null}),
    Plot.axisY({ticks:insetYTicks, tickFormat:d3.format(".1f"), tickSize:3.5, tickPadding:5, fontSize:8.5, fontFamily:serif, stroke:"#333", fill:"#555", label:null}),
    Plot.text(["z"],{frameAnchor:"bottom", dy:22, fontSize:8.5, fontFamily:sans, fill:"#222"}),
    Plot.text(["DM"],{frameAnchor:"left", dx:-28, rotate:-90, fontSize:8.5, fontFamily:sans, fill:"#222"})
  ]
});
document.getElementById("inset").append(inset);
</script></body></html>
